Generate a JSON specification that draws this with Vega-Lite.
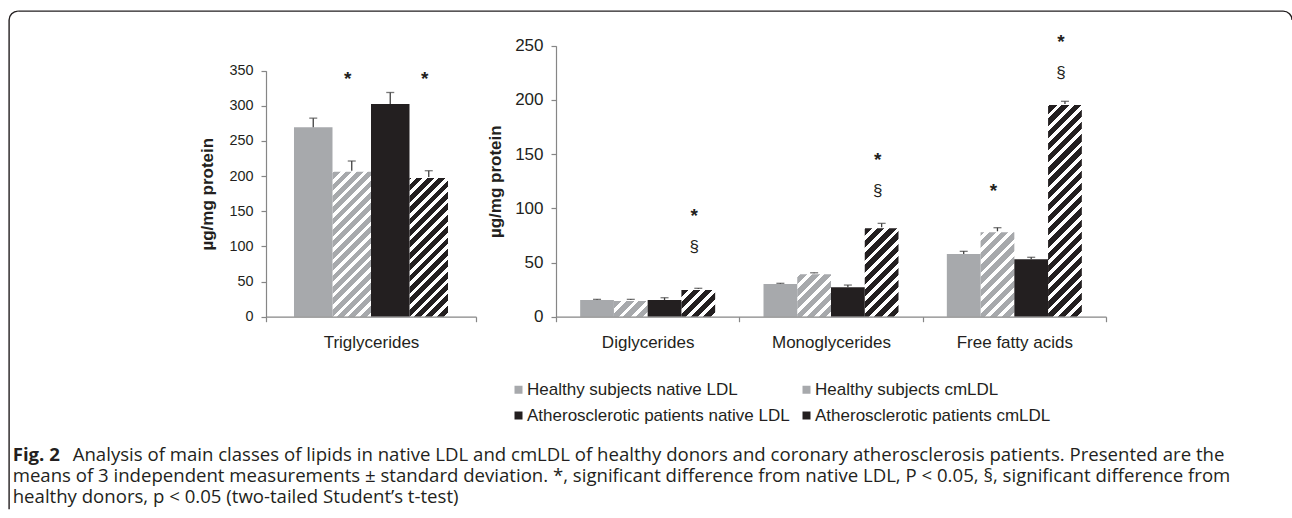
{
  "$schema": "https://vega.github.io/schema/vega-lite/v6.json",
  "width": 1283,
  "height": 507,
  "autosize": {"type": "none"},
  "padding": {"left": 9, "top": 11, "right": 0, "bottom": 0},
  "background": "white",
  "config": {
    "view": {"stroke": "#231f20", "strokeWidth": 1.4, "cornerRadius": 9, "strokeDash": [1279, 1782, 503, 60]},
    "font": "Liberation Sans",
    "axis": {"domainColor": "#868686", "tickColor": "#868686", "domainWidth": 1.2, "tickWidth": 1.2, "tickSize": 5, "labelColor": "#231f20", "titleColor": "#231f20", "labelFont": "Liberation Sans", "titleFont": "Liberation Sans", "grid": false},
    "legend": {"symbolStrokeWidth": 0}
  },
  "datasets": {
    "triglycerides": [
      {"category": "Triglycerides", "series": "Healthy subjects native LDL", "value": 269.5, "error_top": 282.5},
      {"category": "Triglycerides", "series": "Healthy subjects cmLDL", "value": 207.7, "error_top": 221.5},
      {"category": "Triglycerides", "series": "Atherosclerotic patients native LDL", "value": 302.6, "error_top": 319},
      {"category": "Triglycerides", "series": "Atherosclerotic patients cmLDL", "value": 198.8, "error_top": 207.7}
    ],
    "others": [
      {"category": "Diglycerides", "series": "Healthy subjects native LDL", "value": 15.4, "error_top": 16.0},
      {"category": "Diglycerides", "series": "Healthy subjects cmLDL", "value": 15.4, "error_top": 16.0},
      {"category": "Diglycerides", "series": "Atherosclerotic patients native LDL", "value": 15.4, "error_top": 17.5},
      {"category": "Diglycerides", "series": "Atherosclerotic patients cmLDL", "value": 25.5, "error_top": 26.2},
      {"category": "Monoglycerides", "series": "Healthy subjects native LDL", "value": 30.2, "error_top": 30.8},
      {"category": "Monoglycerides", "series": "Healthy subjects cmLDL", "value": 40.0, "error_top": 40.5},
      {"category": "Monoglycerides", "series": "Atherosclerotic patients native LDL", "value": 27.1, "error_top": 29.2},
      {"category": "Monoglycerides", "series": "Atherosclerotic patients cmLDL", "value": 82.5, "error_top": 86.1},
      {"category": "Free fatty acids", "series": "Healthy subjects native LDL", "value": 57.8, "error_top": 60.3},
      {"category": "Free fatty acids", "series": "Healthy subjects cmLDL", "value": 78.8, "error_top": 82.1},
      {"category": "Free fatty acids", "series": "Atherosclerotic patients native LDL", "value": 52.9, "error_top": 54.8},
      {"category": "Free fatty acids", "series": "Atherosclerotic patients cmLDL", "value": 196.2, "error_top": 198.7}
    ],
    "symbols": [
      {"category": "Triglycerides", "series": "Healthy subjects cmLDL", "symbol": "*", "label_value": 346.7},
      {"category": "Triglycerides", "series": "Atherosclerotic patients cmLDL", "symbol": "*", "label_value": 346.7},
      {"category": "Diglycerides", "series": "Atherosclerotic patients cmLDL", "symbol": "*", "label_value": 98.4},
      {"category": "Diglycerides", "series": "Atherosclerotic patients cmLDL", "symbol": "§", "label_value": 64.6},
      {"category": "Monoglycerides", "series": "Atherosclerotic patients cmLDL", "symbol": "*", "label_value": 150.1},
      {"category": "Monoglycerides", "series": "Atherosclerotic patients cmLDL", "symbol": "§", "label_value": 116.2},
      {"category": "Free fatty acids", "series": "Healthy subjects cmLDL", "symbol": "*", "label_value": 121.5},
      {"category": "Free fatty acids", "series": "Atherosclerotic patients cmLDL", "symbol": "*", "label_value": 259},
      {"category": "Free fatty acids", "series": "Atherosclerotic patients cmLDL", "symbol": "§", "label_value": 225}
    ],
    "caption": [
      {"line": 1, "lead": "Fig. 2", "text": "Analysis of main classes of lipids in native LDL and cmLDL of healthy donors and coronary atherosclerosis patients. Presented are the"},
      {"line": 2, "lead": "", "text": "means of 3 independent measurements ± standard deviation. *, significant difference from native LDL, P < 0.05, §, significant difference from"},
      {"line": 3, "lead": "", "text": "healthy donors, p < 0.05 (two-tailed Student’s t-test)"}
    ]
  },
  "resolve": {"scale": {"x": "independent", "y": "independent", "xOffset": "independent"}, "axis": {"x": "independent", "y": "independent"}},
  "layer": [
    {
      "data": {"name": "triglycerides"},
      "encoding": {
        "x": {"field": "category", "type": "nominal", "scale": {"domain": ["Triglycerides"], "range": [257, 467], "paddingInner": 0, "paddingOuter": 0},
              "axis": {"orient": "bottom", "offset": -201.3, "title": null, "labelAngle": 0, "tickBand": "extent", "labelFontSize": 17, "labelPadding": 13, "zindex": 1}},
        "xOffset": {"field": "series", "type": "nominal", "scale": {"domain": ["Healthy subjects native LDL", "Healthy subjects cmLDL", "Atherosclerotic patients native LDL", "Atherosclerotic patients cmLDL"], "paddingInner": 0, "paddingOuter": 0.727}}
      },
      "layer": [
        {
          "transform": [{"filter": "datum.series === 'Healthy subjects cmLDL'"}],
          "mark": {"type": "bar", "fill": {"gradient": "linear", "x1": 0, "y1": 0, "x2": 0.1767, "y2": 1.1289, "stops": [
            {"offset":0,"color":"#a7a9ac"},{"offset":0.024,"color":"#a7a9ac"},{"offset":0.024,"color":"#fff"},{"offset":0.04,"color":"#fff"},
            {"offset":0.04,"color":"#a7a9ac"},{"offset":0.064,"color":"#a7a9ac"},{"offset":0.064,"color":"#fff"},{"offset":0.08,"color":"#fff"},
            {"offset":0.08,"color":"#a7a9ac"},{"offset":0.104,"color":"#a7a9ac"},{"offset":0.104,"color":"#fff"},{"offset":0.12,"color":"#fff"},
            {"offset":0.12,"color":"#a7a9ac"},{"offset":0.144,"color":"#a7a9ac"},{"offset":0.144,"color":"#fff"},{"offset":0.16,"color":"#fff"},
            {"offset":0.16,"color":"#a7a9ac"},{"offset":0.184,"color":"#a7a9ac"},{"offset":0.184,"color":"#fff"},{"offset":0.2,"color":"#fff"},
            {"offset":0.2,"color":"#a7a9ac"},{"offset":0.224,"color":"#a7a9ac"},{"offset":0.224,"color":"#fff"},{"offset":0.24,"color":"#fff"},
            {"offset":0.24,"color":"#a7a9ac"},{"offset":0.264,"color":"#a7a9ac"},{"offset":0.264,"color":"#fff"},{"offset":0.28,"color":"#fff"},
            {"offset":0.28,"color":"#a7a9ac"},{"offset":0.304,"color":"#a7a9ac"},{"offset":0.304,"color":"#fff"},{"offset":0.32,"color":"#fff"},
            {"offset":0.32,"color":"#a7a9ac"},{"offset":0.344,"color":"#a7a9ac"},{"offset":0.344,"color":"#fff"},{"offset":0.36,"color":"#fff"},
            {"offset":0.36,"color":"#a7a9ac"},{"offset":0.384,"color":"#a7a9ac"},{"offset":0.384,"color":"#fff"},{"offset":0.4,"color":"#fff"},
            {"offset":0.4,"color":"#a7a9ac"},{"offset":0.424,"color":"#a7a9ac"},{"offset":0.424,"color":"#fff"},{"offset":0.44,"color":"#fff"},
            {"offset":0.44,"color":"#a7a9ac"},{"offset":0.464,"color":"#a7a9ac"},{"offset":0.464,"color":"#fff"},{"offset":0.48,"color":"#fff"},
            {"offset":0.48,"color":"#a7a9ac"},{"offset":0.504,"color":"#a7a9ac"},{"offset":0.504,"color":"#fff"},{"offset":0.52,"color":"#fff"},
            {"offset":0.52,"color":"#a7a9ac"},{"offset":0.544,"color":"#a7a9ac"},{"offset":0.544,"color":"#fff"},{"offset":0.56,"color":"#fff"},
            {"offset":0.56,"color":"#a7a9ac"},{"offset":0.584,"color":"#a7a9ac"},{"offset":0.584,"color":"#fff"},{"offset":0.6,"color":"#fff"},
            {"offset":0.6,"color":"#a7a9ac"},{"offset":0.624,"color":"#a7a9ac"},{"offset":0.624,"color":"#fff"},{"offset":0.64,"color":"#fff"},
            {"offset":0.64,"color":"#a7a9ac"},{"offset":0.664,"color":"#a7a9ac"},{"offset":0.664,"color":"#fff"},{"offset":0.68,"color":"#fff"},
            {"offset":0.68,"color":"#a7a9ac"},{"offset":0.704,"color":"#a7a9ac"},{"offset":0.704,"color":"#fff"},{"offset":0.72,"color":"#fff"},
            {"offset":0.72,"color":"#a7a9ac"},{"offset":0.744,"color":"#a7a9ac"},{"offset":0.744,"color":"#fff"},{"offset":0.76,"color":"#fff"},
            {"offset":0.76,"color":"#a7a9ac"},{"offset":0.784,"color":"#a7a9ac"},{"offset":0.784,"color":"#fff"},{"offset":0.8,"color":"#fff"},
            {"offset":0.8,"color":"#a7a9ac"},{"offset":0.824,"color":"#a7a9ac"},{"offset":0.824,"color":"#fff"},{"offset":0.84,"color":"#fff"},
            {"offset":0.84,"color":"#a7a9ac"},{"offset":0.864,"color":"#a7a9ac"},{"offset":0.864,"color":"#fff"},{"offset":0.88,"color":"#fff"},
            {"offset":0.88,"color":"#a7a9ac"},{"offset":0.904,"color":"#a7a9ac"},{"offset":0.904,"color":"#fff"},{"offset":0.92,"color":"#fff"},
            {"offset":0.92,"color":"#a7a9ac"},{"offset":0.944,"color":"#a7a9ac"},{"offset":0.944,"color":"#fff"},{"offset":0.96,"color":"#fff"},
            {"offset":0.96,"color":"#a7a9ac"},{"offset":0.984,"color":"#a7a9ac"},{"offset":0.984,"color":"#fff"},{"offset":1,"color":"#fff"}
          ]}},
          "encoding": {
            "y": {"datum": 0, "type": "quantitative", "scale": {"domain": [0, 350], "range": [305.7, 59.7], "nice": false, "zero": true},
                  "axis": {"orient": "left", "offset": -257, "values": [0, 50, 100, 150, 200, 250, 300, 350], "title": "µg/mg protein", "titleFontSize": 17, "titleFontWeight": "bold", "titlePadding": 12.5, "labelFontSize": 14.4, "labelPadding": 8}},
            "y2": {"datum": 350}
          }
        },
        {
          "transform": [{"filter": "datum.series === 'Atherosclerotic patients cmLDL'"}],
          "mark": {"type": "bar", "fill": {"gradient": "linear", "x1": 0, "y1": 0, "x2": 0.1767, "y2": 1.1289, "stops": [
            {"offset":0,"color":"#231f20"},{"offset":0.024,"color":"#231f20"},{"offset":0.024,"color":"#fff"},{"offset":0.04,"color":"#fff"},
            {"offset":0.04,"color":"#231f20"},{"offset":0.064,"color":"#231f20"},{"offset":0.064,"color":"#fff"},{"offset":0.08,"color":"#fff"},
            {"offset":0.08,"color":"#231f20"},{"offset":0.104,"color":"#231f20"},{"offset":0.104,"color":"#fff"},{"offset":0.12,"color":"#fff"},
            {"offset":0.12,"color":"#231f20"},{"offset":0.144,"color":"#231f20"},{"offset":0.144,"color":"#fff"},{"offset":0.16,"color":"#fff"},
            {"offset":0.16,"color":"#231f20"},{"offset":0.184,"color":"#231f20"},{"offset":0.184,"color":"#fff"},{"offset":0.2,"color":"#fff"},
            {"offset":0.2,"color":"#231f20"},{"offset":0.224,"color":"#231f20"},{"offset":0.224,"color":"#fff"},{"offset":0.24,"color":"#fff"},
            {"offset":0.24,"color":"#231f20"},{"offset":0.264,"color":"#231f20"},{"offset":0.264,"color":"#fff"},{"offset":0.28,"color":"#fff"},
            {"offset":0.28,"color":"#231f20"},{"offset":0.304,"color":"#231f20"},{"offset":0.304,"color":"#fff"},{"offset":0.32,"color":"#fff"},
            {"offset":0.32,"color":"#231f20"},{"offset":0.344,"color":"#231f20"},{"offset":0.344,"color":"#fff"},{"offset":0.36,"color":"#fff"},
            {"offset":0.36,"color":"#231f20"},{"offset":0.384,"color":"#231f20"},{"offset":0.384,"color":"#fff"},{"offset":0.4,"color":"#fff"},
            {"offset":0.4,"color":"#231f20"},{"offset":0.424,"color":"#231f20"},{"offset":0.424,"color":"#fff"},{"offset":0.44,"color":"#fff"},
            {"offset":0.44,"color":"#231f20"},{"offset":0.464,"color":"#231f20"},{"offset":0.464,"color":"#fff"},{"offset":0.48,"color":"#fff"},
            {"offset":0.48,"color":"#231f20"},{"offset":0.504,"color":"#231f20"},{"offset":0.504,"color":"#fff"},{"offset":0.52,"color":"#fff"},
            {"offset":0.52,"color":"#231f20"},{"offset":0.544,"color":"#231f20"},{"offset":0.544,"color":"#fff"},{"offset":0.56,"color":"#fff"},
            {"offset":0.56,"color":"#231f20"},{"offset":0.584,"color":"#231f20"},{"offset":0.584,"color":"#fff"},{"offset":0.6,"color":"#fff"},
            {"offset":0.6,"color":"#231f20"},{"offset":0.624,"color":"#231f20"},{"offset":0.624,"color":"#fff"},{"offset":0.64,"color":"#fff"},
            {"offset":0.64,"color":"#231f20"},{"offset":0.664,"color":"#231f20"},{"offset":0.664,"color":"#fff"},{"offset":0.68,"color":"#fff"},
            {"offset":0.68,"color":"#231f20"},{"offset":0.704,"color":"#231f20"},{"offset":0.704,"color":"#fff"},{"offset":0.72,"color":"#fff"},
            {"offset":0.72,"color":"#231f20"},{"offset":0.744,"color":"#231f20"},{"offset":0.744,"color":"#fff"},{"offset":0.76,"color":"#fff"},
            {"offset":0.76,"color":"#231f20"},{"offset":0.784,"color":"#231f20"},{"offset":0.784,"color":"#fff"},{"offset":0.8,"color":"#fff"},
            {"offset":0.8,"color":"#231f20"},{"offset":0.824,"color":"#231f20"},{"offset":0.824,"color":"#fff"},{"offset":0.84,"color":"#fff"},
            {"offset":0.84,"color":"#231f20"},{"offset":0.864,"color":"#231f20"},{"offset":0.864,"color":"#fff"},{"offset":0.88,"color":"#fff"},
            {"offset":0.88,"color":"#231f20"},{"offset":0.904,"color":"#231f20"},{"offset":0.904,"color":"#fff"},{"offset":0.92,"color":"#fff"},
            {"offset":0.92,"color":"#231f20"},{"offset":0.944,"color":"#231f20"},{"offset":0.944,"color":"#fff"},{"offset":0.96,"color":"#fff"},
            {"offset":0.96,"color":"#231f20"},{"offset":0.984,"color":"#231f20"},{"offset":0.984,"color":"#fff"},{"offset":1,"color":"#fff"}
          ]}},
          "encoding": {
            "y": {"datum": 0, "type": "quantitative",
                  "axis": {"orient": "left", "offset": -257, "values": [0, 50, 100, 150, 200, 250, 300, 350], "title": "µg/mg protein", "titleFontSize": 17, "titleFontWeight": "bold", "titlePadding": 12.5, "labelFontSize": 14.4, "labelPadding": 8}},
            "y2": {"datum": 350}
          }
        },
        {
          "transform": [{"filter": "datum.series === 'Healthy subjects cmLDL' || datum.series === 'Atherosclerotic patients cmLDL'"}],
          "mark": {"type": "bar", "fill": "#ffffff", "stroke": "#ffffff", "strokeWidth": 2},
          "encoding": {
            "y": {"field": "value", "type": "quantitative",
                  "axis": {"orient": "left", "offset": -257, "values": [0, 50, 100, 150, 200, 250, 300, 350], "title": "µg/mg protein", "titleFontSize": 17, "titleFontWeight": "bold", "titlePadding": 12.5, "labelFontSize": 14.4, "labelPadding": 8}},
            "y2": {"datum": 350}
          }
        },
        {
          "transform": [{"filter": "datum.series === 'Healthy subjects native LDL' || datum.series === 'Atherosclerotic patients native LDL'"}],
          "mark": {"type": "bar"},
          "encoding": {
            "y": {"field": "value", "type": "quantitative",
                  "axis": {"orient": "left", "offset": -257, "values": [0, 50, 100, 150, 200, 250, 300, 350], "title": "µg/mg protein", "titleFontSize": 17, "titleFontWeight": "bold", "titlePadding": 12.5, "labelFontSize": 14.4, "labelPadding": 8}},
            "color": {"field": "series", "type": "nominal",
                      "scale": {"domain": ["Healthy subjects native LDL", "Healthy subjects cmLDL", "Atherosclerotic patients native LDL", "Atherosclerotic patients cmLDL"],
                                "range": ["#a7a9ac", "#a7a9ac", "#231f20", "#231f20"]},
                      "legend": {"orient": "none", "legendX": 501, "legendY": 370, "columns": 2, "direction": "horizontal", "title": null, "symbolType": "square", "symbolSize": 64, "labelFontSize": 17, "labelColor": "#231f20", "labelFont": "Liberation Sans", "labelLimit": 0, "rowPadding": 8, "columnPadding": 8, "labelOffset": 0, "padding": 0}}
          }
        },
        {
          "mark": {"type": "rule", "color": "#404040", "strokeWidth": 1.3},
          "encoding": {
            "y": {"field": "value", "type": "quantitative",
                  "axis": {"orient": "left", "offset": -257, "values": [0, 50, 100, 150, 200, 250, 300, 350], "title": "µg/mg protein", "titleFontSize": 17, "titleFontWeight": "bold", "titlePadding": 12.5, "labelFontSize": 14.4, "labelPadding": 8}},
            "y2": {"field": "error_top"}
          }
        },
        {
          "mark": {"type": "tick", "orient": "horizontal", "color": "#404040", "thickness": 1.3},
          "encoding": {
            "y": {"field": "error_top", "type": "quantitative",
                  "axis": {"orient": "left", "offset": -257, "values": [0, 50, 100, 150, 200, 250, 300, 350], "title": "µg/mg protein", "titleFontSize": 17, "titleFontWeight": "bold", "titlePadding": 12.5, "labelFontSize": 14.4, "labelPadding": 8}},
            "size": {"value": 8}
          }
        },
        {
          "data": {"name": "symbols"},
          "transform": [{"filter": "datum.category === 'Triglycerides' && datum.symbol === '*'"}],
          "mark": {"type": "text", "fontSize": 19, "fontWeight": "bold", "color": "#231f20", "baseline": "middle", "dy": 6, "dx": -4},
          "encoding": {
            "y": {"field": "label_value", "type": "quantitative",
                  "axis": {"orient": "left", "offset": -257, "values": [0, 50, 100, 150, 200, 250, 300, 350], "title": "µg/mg protein", "titleFontSize": 17, "titleFontWeight": "bold", "titlePadding": 12.5, "labelFontSize": 14.4, "labelPadding": 8}},
            "text": {"field": "symbol"}
          }
        }
      ]
    },
    {
      "data": {"name": "others"},
      "encoding": {
        "x": {"field": "category", "type": "nominal", "sort": ["Diglycerides", "Monoglycerides", "Free fatty acids"],
              "scale": {"domain": ["Diglycerides", "Monoglycerides", "Free fatty acids"], "range": [547, 1097], "paddingInner": 0, "paddingOuter": 0},
              "axis": {"orient": "bottom", "offset": -201.3, "title": null, "labelAngle": 0, "tickBand": "extent", "labelFontSize": 17, "labelPadding": 13, "zindex": 1}},
        "xOffset": {"field": "series", "type": "nominal", "scale": {"domain": ["Healthy subjects native LDL", "Healthy subjects cmLDL", "Atherosclerotic patients native LDL", "Atherosclerotic patients cmLDL"], "paddingInner": 0, "paddingOuter": 0.716}}
      },
      "layer": [
        {
          "transform": [{"filter": "datum.series === 'Healthy subjects cmLDL'"}],
          "mark": {"type": "bar", "fill": {"gradient": "linear", "x1": 0, "y1": 0, "x2": 0.1379, "y2": 1.1074, "stops": [
            {"offset":0,"color":"#a7a9ac"},{"offset":0.024,"color":"#a7a9ac"},{"offset":0.024,"color":"#fff"},{"offset":0.04,"color":"#fff"},
            {"offset":0.04,"color":"#a7a9ac"},{"offset":0.064,"color":"#a7a9ac"},{"offset":0.064,"color":"#fff"},{"offset":0.08,"color":"#fff"},
            {"offset":0.08,"color":"#a7a9ac"},{"offset":0.104,"color":"#a7a9ac"},{"offset":0.104,"color":"#fff"},{"offset":0.12,"color":"#fff"},
            {"offset":0.12,"color":"#a7a9ac"},{"offset":0.144,"color":"#a7a9ac"},{"offset":0.144,"color":"#fff"},{"offset":0.16,"color":"#fff"},
            {"offset":0.16,"color":"#a7a9ac"},{"offset":0.184,"color":"#a7a9ac"},{"offset":0.184,"color":"#fff"},{"offset":0.2,"color":"#fff"},
            {"offset":0.2,"color":"#a7a9ac"},{"offset":0.224,"color":"#a7a9ac"},{"offset":0.224,"color":"#fff"},{"offset":0.24,"color":"#fff"},
            {"offset":0.24,"color":"#a7a9ac"},{"offset":0.264,"color":"#a7a9ac"},{"offset":0.264,"color":"#fff"},{"offset":0.28,"color":"#fff"},
            {"offset":0.28,"color":"#a7a9ac"},{"offset":0.304,"color":"#a7a9ac"},{"offset":0.304,"color":"#fff"},{"offset":0.32,"color":"#fff"},
            {"offset":0.32,"color":"#a7a9ac"},{"offset":0.344,"color":"#a7a9ac"},{"offset":0.344,"color":"#fff"},{"offset":0.36,"color":"#fff"},
            {"offset":0.36,"color":"#a7a9ac"},{"offset":0.384,"color":"#a7a9ac"},{"offset":0.384,"color":"#fff"},{"offset":0.4,"color":"#fff"},
            {"offset":0.4,"color":"#a7a9ac"},{"offset":0.424,"color":"#a7a9ac"},{"offset":0.424,"color":"#fff"},{"offset":0.44,"color":"#fff"},
            {"offset":0.44,"color":"#a7a9ac"},{"offset":0.464,"color":"#a7a9ac"},{"offset":0.464,"color":"#fff"},{"offset":0.48,"color":"#fff"},
            {"offset":0.48,"color":"#a7a9ac"},{"offset":0.504,"color":"#a7a9ac"},{"offset":0.504,"color":"#fff"},{"offset":0.52,"color":"#fff"},
            {"offset":0.52,"color":"#a7a9ac"},{"offset":0.544,"color":"#a7a9ac"},{"offset":0.544,"color":"#fff"},{"offset":0.56,"color":"#fff"},
            {"offset":0.56,"color":"#a7a9ac"},{"offset":0.584,"color":"#a7a9ac"},{"offset":0.584,"color":"#fff"},{"offset":0.6,"color":"#fff"},
            {"offset":0.6,"color":"#a7a9ac"},{"offset":0.624,"color":"#a7a9ac"},{"offset":0.624,"color":"#fff"},{"offset":0.64,"color":"#fff"},
            {"offset":0.64,"color":"#a7a9ac"},{"offset":0.664,"color":"#a7a9ac"},{"offset":0.664,"color":"#fff"},{"offset":0.68,"color":"#fff"},
            {"offset":0.68,"color":"#a7a9ac"},{"offset":0.704,"color":"#a7a9ac"},{"offset":0.704,"color":"#fff"},{"offset":0.72,"color":"#fff"},
            {"offset":0.72,"color":"#a7a9ac"},{"offset":0.744,"color":"#a7a9ac"},{"offset":0.744,"color":"#fff"},{"offset":0.76,"color":"#fff"},
            {"offset":0.76,"color":"#a7a9ac"},{"offset":0.784,"color":"#a7a9ac"},{"offset":0.784,"color":"#fff"},{"offset":0.8,"color":"#fff"},
            {"offset":0.8,"color":"#a7a9ac"},{"offset":0.824,"color":"#a7a9ac"},{"offset":0.824,"color":"#fff"},{"offset":0.84,"color":"#fff"},
            {"offset":0.84,"color":"#a7a9ac"},{"offset":0.864,"color":"#a7a9ac"},{"offset":0.864,"color":"#fff"},{"offset":0.88,"color":"#fff"},
            {"offset":0.88,"color":"#a7a9ac"},{"offset":0.904,"color":"#a7a9ac"},{"offset":0.904,"color":"#fff"},{"offset":0.92,"color":"#fff"},
            {"offset":0.92,"color":"#a7a9ac"},{"offset":0.944,"color":"#a7a9ac"},{"offset":0.944,"color":"#fff"},{"offset":0.96,"color":"#fff"},
            {"offset":0.96,"color":"#a7a9ac"},{"offset":0.984,"color":"#a7a9ac"},{"offset":0.984,"color":"#fff"},{"offset":1,"color":"#fff"}
          ]}},
          "encoding": {
            "y": {"datum": 0, "type": "quantitative", "scale": {"domain": [0, 250], "range": [305.7, 34.7], "nice": false, "zero": true},
                  "axis": {"orient": "left", "offset": -547, "values": [0, 50, 100, 150, 200, 250], "title": "µg/mg protein", "titleFontSize": 17, "titleFontWeight": "bold", "titlePadding": 10, "labelFontSize": 17, "labelPadding": 8}},
            "y2": {"datum": 250}
          }
        },
        {
          "transform": [{"filter": "datum.series === 'Atherosclerotic patients cmLDL'"}],
          "mark": {"type": "bar", "fill": {"gradient": "linear", "x1": 0, "y1": 0, "x2": 0.1379, "y2": 1.1074, "stops": [
            {"offset":0,"color":"#231f20"},{"offset":0.024,"color":"#231f20"},{"offset":0.024,"color":"#fff"},{"offset":0.04,"color":"#fff"},
            {"offset":0.04,"color":"#231f20"},{"offset":0.064,"color":"#231f20"},{"offset":0.064,"color":"#fff"},{"offset":0.08,"color":"#fff"},
            {"offset":0.08,"color":"#231f20"},{"offset":0.104,"color":"#231f20"},{"offset":0.104,"color":"#fff"},{"offset":0.12,"color":"#fff"},
            {"offset":0.12,"color":"#231f20"},{"offset":0.144,"color":"#231f20"},{"offset":0.144,"color":"#fff"},{"offset":0.16,"color":"#fff"},
            {"offset":0.16,"color":"#231f20"},{"offset":0.184,"color":"#231f20"},{"offset":0.184,"color":"#fff"},{"offset":0.2,"color":"#fff"},
            {"offset":0.2,"color":"#231f20"},{"offset":0.224,"color":"#231f20"},{"offset":0.224,"color":"#fff"},{"offset":0.24,"color":"#fff"},
            {"offset":0.24,"color":"#231f20"},{"offset":0.264,"color":"#231f20"},{"offset":0.264,"color":"#fff"},{"offset":0.28,"color":"#fff"},
            {"offset":0.28,"color":"#231f20"},{"offset":0.304,"color":"#231f20"},{"offset":0.304,"color":"#fff"},{"offset":0.32,"color":"#fff"},
            {"offset":0.32,"color":"#231f20"},{"offset":0.344,"color":"#231f20"},{"offset":0.344,"color":"#fff"},{"offset":0.36,"color":"#fff"},
            {"offset":0.36,"color":"#231f20"},{"offset":0.384,"color":"#231f20"},{"offset":0.384,"color":"#fff"},{"offset":0.4,"color":"#fff"},
            {"offset":0.4,"color":"#231f20"},{"offset":0.424,"color":"#231f20"},{"offset":0.424,"color":"#fff"},{"offset":0.44,"color":"#fff"},
            {"offset":0.44,"color":"#231f20"},{"offset":0.464,"color":"#231f20"},{"offset":0.464,"color":"#fff"},{"offset":0.48,"color":"#fff"},
            {"offset":0.48,"color":"#231f20"},{"offset":0.504,"color":"#231f20"},{"offset":0.504,"color":"#fff"},{"offset":0.52,"color":"#fff"},
            {"offset":0.52,"color":"#231f20"},{"offset":0.544,"color":"#231f20"},{"offset":0.544,"color":"#fff"},{"offset":0.56,"color":"#fff"},
            {"offset":0.56,"color":"#231f20"},{"offset":0.584,"color":"#231f20"},{"offset":0.584,"color":"#fff"},{"offset":0.6,"color":"#fff"},
            {"offset":0.6,"color":"#231f20"},{"offset":0.624,"color":"#231f20"},{"offset":0.624,"color":"#fff"},{"offset":0.64,"color":"#fff"},
            {"offset":0.64,"color":"#231f20"},{"offset":0.664,"color":"#231f20"},{"offset":0.664,"color":"#fff"},{"offset":0.68,"color":"#fff"},
            {"offset":0.68,"color":"#231f20"},{"offset":0.704,"color":"#231f20"},{"offset":0.704,"color":"#fff"},{"offset":0.72,"color":"#fff"},
            {"offset":0.72,"color":"#231f20"},{"offset":0.744,"color":"#231f20"},{"offset":0.744,"color":"#fff"},{"offset":0.76,"color":"#fff"},
            {"offset":0.76,"color":"#231f20"},{"offset":0.784,"color":"#231f20"},{"offset":0.784,"color":"#fff"},{"offset":0.8,"color":"#fff"},
            {"offset":0.8,"color":"#231f20"},{"offset":0.824,"color":"#231f20"},{"offset":0.824,"color":"#fff"},{"offset":0.84,"color":"#fff"},
            {"offset":0.84,"color":"#231f20"},{"offset":0.864,"color":"#231f20"},{"offset":0.864,"color":"#fff"},{"offset":0.88,"color":"#fff"},
            {"offset":0.88,"color":"#231f20"},{"offset":0.904,"color":"#231f20"},{"offset":0.904,"color":"#fff"},{"offset":0.92,"color":"#fff"},
            {"offset":0.92,"color":"#231f20"},{"offset":0.944,"color":"#231f20"},{"offset":0.944,"color":"#fff"},{"offset":0.96,"color":"#fff"},
            {"offset":0.96,"color":"#231f20"},{"offset":0.984,"color":"#231f20"},{"offset":0.984,"color":"#fff"},{"offset":1,"color":"#fff"}
          ]}},
          "encoding": {
            "y": {"datum": 0, "type": "quantitative",
                  "axis": {"orient": "left", "offset": -547, "values": [0, 50, 100, 150, 200, 250], "title": "µg/mg protein", "titleFontSize": 17, "titleFontWeight": "bold", "titlePadding": 10, "labelFontSize": 17, "labelPadding": 8}},
            "y2": {"datum": 250}
          }
        },
        {
          "transform": [{"filter": "datum.series === 'Healthy subjects cmLDL' || datum.series === 'Atherosclerotic patients cmLDL'"}],
          "mark": {"type": "bar", "fill": "#ffffff", "stroke": "#ffffff", "strokeWidth": 2},
          "encoding": {
            "y": {"field": "value", "type": "quantitative",
                  "axis": {"orient": "left", "offset": -547, "values": [0, 50, 100, 150, 200, 250], "title": "µg/mg protein", "titleFontSize": 17, "titleFontWeight": "bold", "titlePadding": 10, "labelFontSize": 17, "labelPadding": 8}},
            "y2": {"datum": 250}
          }
        },
        {
          "transform": [{"filter": "datum.series === 'Healthy subjects native LDL' || datum.series === 'Atherosclerotic patients native LDL'"}],
          "mark": {"type": "bar"},
          "encoding": {
            "y": {"field": "value", "type": "quantitative",
                  "axis": {"orient": "left", "offset": -547, "values": [0, 50, 100, 150, 200, 250], "title": "µg/mg protein", "titleFontSize": 17, "titleFontWeight": "bold", "titlePadding": 10, "labelFontSize": 17, "labelPadding": 8}},
            "color": {"field": "series", "type": "nominal",
                      "scale": {"domain": ["Healthy subjects native LDL", "Healthy subjects cmLDL", "Atherosclerotic patients native LDL", "Atherosclerotic patients cmLDL"],
                                "range": ["#a7a9ac", "#a7a9ac", "#231f20", "#231f20"]},
                      "legend": {"orient": "none", "legendX": 501, "legendY": 370, "columns": 2, "direction": "horizontal", "title": null, "symbolType": "square", "symbolSize": 64, "labelFontSize": 17, "labelColor": "#231f20", "labelFont": "Liberation Sans", "labelLimit": 0, "rowPadding": 8, "columnPadding": 8, "labelOffset": 0, "padding": 0}}
          }
        },
        {
          "mark": {"type": "rule", "color": "#404040", "strokeWidth": 1.3},
          "encoding": {
            "y": {"field": "value", "type": "quantitative",
                  "axis": {"orient": "left", "offset": -547, "values": [0, 50, 100, 150, 200, 250], "title": "µg/mg protein", "titleFontSize": 17, "titleFontWeight": "bold", "titlePadding": 10, "labelFontSize": 17, "labelPadding": 8}},
            "y2": {"field": "error_top"}
          }
        },
        {
          "mark": {"type": "tick", "orient": "horizontal", "color": "#404040", "thickness": 1.3},
          "encoding": {
            "y": {"field": "error_top", "type": "quantitative",
                  "axis": {"orient": "left", "offset": -547, "values": [0, 50, 100, 150, 200, 250], "title": "µg/mg protein", "titleFontSize": 17, "titleFontWeight": "bold", "titlePadding": 10, "labelFontSize": 17, "labelPadding": 8}},
            "size": {"value": 8}
          }
        },
        {
          "data": {"name": "symbols"},
          "transform": [{"filter": "datum.category !== 'Triglycerides' && datum.symbol === '*'"}],
          "mark": {"type": "text", "fontSize": 19, "fontWeight": "bold", "color": "#231f20", "baseline": "middle", "dy": 6, "dx": -4},
          "encoding": {
            "y": {"field": "label_value", "type": "quantitative",
                  "axis": {"orient": "left", "offset": -547, "values": [0, 50, 100, 150, 200, 250], "title": "µg/mg protein", "titleFontSize": 17, "titleFontWeight": "bold", "titlePadding": 10, "labelFontSize": 17, "labelPadding": 8}},
            "text": {"field": "symbol"}
          }
        },
        {
          "data": {"name": "symbols"},
          "transform": [{"filter": "datum.category !== 'Triglycerides' && datum.symbol === '§'"}],
          "mark": {"type": "text", "fontSize": 17, "color": "#231f20", "baseline": "middle", "dy": 0, "dx": -4},
          "encoding": {
            "y": {"field": "label_value", "type": "quantitative",
                  "axis": {"orient": "left", "offset": -547, "values": [0, 50, 100, 150, 200, 250], "title": "µg/mg protein", "titleFontSize": 17, "titleFontWeight": "bold", "titlePadding": 10, "labelFontSize": 17, "labelPadding": 8}},
            "text": {"field": "symbol"}
          }
        }
      ]
    },
    {
      "data": {"name": "caption"},
      "encoding": {
        "x": {"datum": 0, "type": "quantitative", "scale": {"domain": [0, 1], "range": [3.7, 1280]}, "axis": null},
        "y": {"field": "line", "type": "quantitative", "scale": {"domain": [1, 3], "range": [450, 492], "zero": false, "nice": false}, "axis": null}
      },
      "layer": [
        {
          "transform": [{"filter": "datum.line === 1"}],
          "mark": {"type": "text", "align": "left", "baseline": "alphabetic", "font": "Open Sans", "fontSize": 18.6, "fontWeight": "bold", "color": "#231f20"},
          "encoding": {"text": {"field": "lead"}}
        },
        {
          "transform": [{"filter": "datum.line === 1"}],
          "mark": {"type": "text", "align": "left", "baseline": "alphabetic", "font": "Open Sans", "fontSize": 18.6, "color": "#231f20", "dx": 60},
          "encoding": {"text": {"field": "text"}}
        },
        {
          "transform": [{"filter": "datum.line !== 1"}],
          "mark": {"type": "text", "align": "left", "baseline": "alphabetic", "font": "Open Sans", "fontSize": 18.6, "color": "#231f20"},
          "encoding": {"text": {"field": "text"}}
        }
      ]
    }
  ]
}
